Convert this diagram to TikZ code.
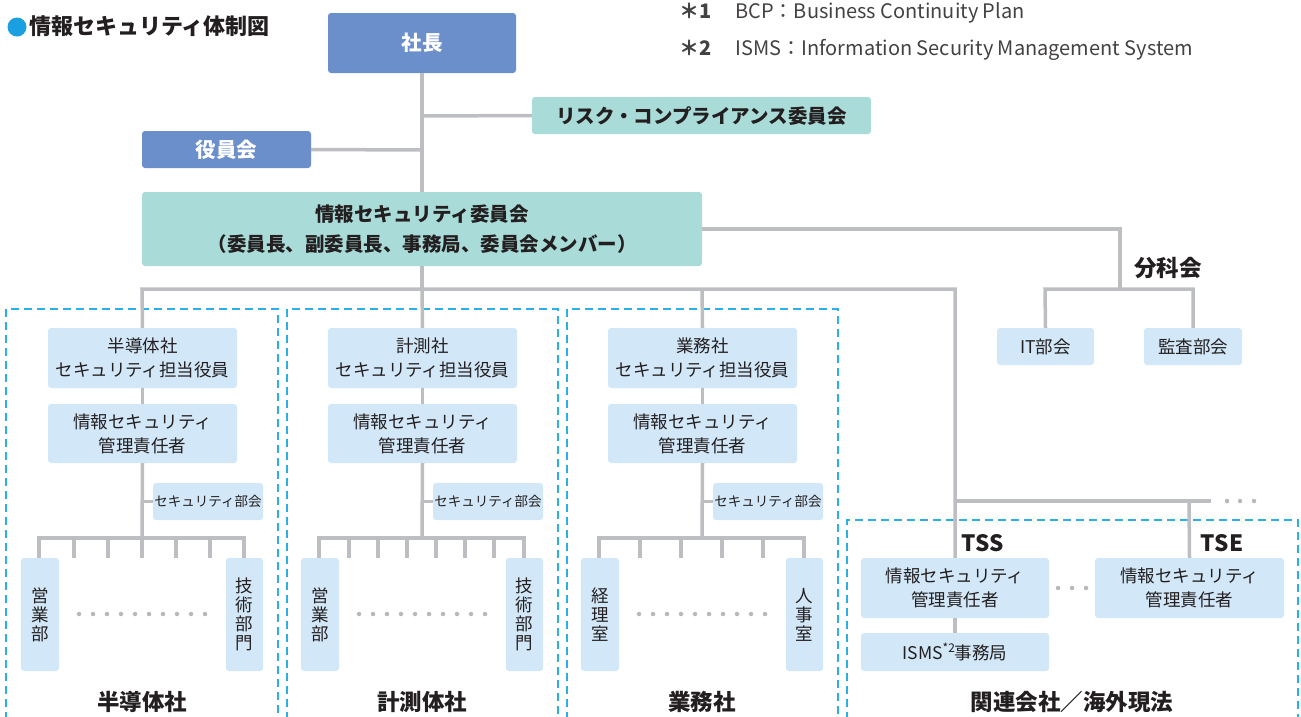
\documentclass[tikz,border=0pt]{standalone}
\usepackage{fontspec}
\setmainfont{Noto Sans CJK JP}
\definecolor{bluebox}{HTML}{6A8FCB}
\definecolor{tealbox}{HTML}{A9DCD8}
\definecolor{lightbox}{HTML}{D2E7F7}
\definecolor{linegray}{HTML}{BDBEC1}
\definecolor{dashc}{HTML}{2BB0E6}
\definecolor{txt}{HTML}{231F20}
\definecolor{dotc}{HTML}{B8B8BA}
\definecolor{titleblue}{HTML}{1AA0E0}
\tikzset{
  base/.style={rounded corners=3pt, inner sep=0pt, align=center, text=txt},
  bluenode/.style={base, fill=bluebox, text=white, font=\fontsize{20.5}{24}\selectfont\bfseries},
  tealnode/.style={base, fill=tealbox, font=\fontsize{19.5}{30}\selectfont\bfseries},
  lightnode/.style={base, fill=lightbox, font=\fontsize{17.5}{24}\selectfont},
  smallnode/.style={base, fill=lightbox, font=\fontsize{13.5}{16}\selectfont},
  deptnode/.style={base, fill=lightbox, font=\fontsize{17.5}{19}\selectfont, minimum width=38pt, minimum height=113pt},
  connector/.style={draw=linegray, line width=3.5pt},
  divframe/.style={draw=dashc, line width=1.4pt, dash pattern=on 8pt off 5pt},
  grouplabel/.style={font=\fontsize{22.5}{24}\selectfont\bfseries, text=txt, inner sep=0pt},
  noteline/.style={font=\fontsize{20}{22}\selectfont, text=txt!85, inner sep=0pt, anchor=west},
  gdot/.style={circle, fill=dotc, inner sep=0pt, minimum size=4.5pt},
}
\begin{document}
\begin{tikzpicture}[x=1pt,y=-1pt]
\useasboundingbox (0,0) rectangle (1301,716);
\clip (0,0) rectangle (1301,716);

% title
\fill[titleblue] (17,27) circle (9.5pt);
\node[font=\fontsize{22}{24}\selectfont\bfseries, text=txt, inner sep=0pt, anchor=west] (title) at (29,26) {情報セキュリティ体制図};

% footnotes
\node[noteline] (n1) at (679,13) {{\bfseries ＊1}\hspace{24pt}BCP：Business Continuity Plan};
\node[noteline] (n2) at (679,50) {{\bfseries ＊2}\hspace{24pt}ISMS：Information Security Management System};

% top nodes
\node[bluenode, minimum width=188pt, minimum height=60pt] (shacho) at (422,43) {社長};
\node[tealnode, minimum width=339pt, minimum height=37pt] (risk) at (701.5,115.5) {リスク・コンプライアンス委員会};
\node[bluenode, minimum width=169pt, minimum height=37pt] (yakuin) at (226.5,149.5) {役員会};
\node[tealnode, minimum width=560pt, minimum height=74pt] (iscom) at (422,229) {情報セキュリティ委員会\\（委員長、副委員長、事務局、委員会メンバー）};

\coordinate (jr) at (422,116);
\coordinate (jy) at (422,150);
\draw[connector] (shacho.south) -- (iscom.north);
\draw[connector] (jr) -- (risk.west);
\draw[connector] (yakuin.east) -- (jy);

% subcommittees
\node[grouplabel] (bunka) at (1168,268) {分科会};
\node[lightnode, minimum width=97pt, minimum height=37pt] (it) at (1045.5,346.5) {IT部会};
\node[lightnode, minimum width=98pt, minimum height=37pt] (kansa) at (1193,346.5) {監査部会};
\coordinate (bk) at (1120,289);
\draw[connector] (iscom.east |- 0,229) -- (1120,229) -- (bk);
\draw[connector] (it.north) -- (1045,289) -- (1193,289) -- (kansa.north);

% division frames
\draw[divframe] (6,720) -- (6,309) -- (278,309) -- (278,720);
\draw[divframe] (287,720) -- (287,309) -- (558,309) -- (558,720);
\draw[divframe] (567,720) -- (567,309) -- (838,309) -- (838,720);
\draw[divframe] (847,720) -- (847,520) -- (1298,520) -- (1298,720);

% division 1
\node[lightnode, minimum width=189pt, minimum height=60pt] (ea) at (142.5,358) {半導体社\\セキュリティ担当役員};
\node[lightnode, minimum width=189pt, minimum height=59pt] (ma) at (142.5,433.5) {情報セキュリティ\\管理責任者};
\node[smallnode, minimum width=110pt, minimum height=37pt] (sa) at (208,501.5) {セキュリティ部会};
\node[deptnode] (la) at (40,614.5) {営\\業\\部};
\node[deptnode, minimum width=37pt] (ra) at (244.5,614.5) {技\\術\\部\\門};
\node[grouplabel] (ga) at (142,702) {半導体社};

% division 2
\node[lightnode, minimum width=189pt, minimum height=60pt] (eb) at (422.5,358) {計測社\\セキュリティ担当役員};
\node[lightnode, minimum width=189pt, minimum height=59pt] (mb) at (422.5,433.5) {情報セキュリティ\\管理責任者};
\node[smallnode, minimum width=110pt, minimum height=37pt] (sb) at (488,501.5) {セキュリティ部会};
\node[deptnode] (lb) at (320,614.5) {営\\業\\部};
\node[deptnode, minimum width=37pt] (rb) at (524.5,614.5) {技\\術\\部\\門};
\node[grouplabel] (gb) at (422,702) {計測体社};

% division 3
\node[lightnode, minimum width=189pt, minimum height=60pt] (ec) at (702.5,358) {業務社\\セキュリティ担当役員};
\node[lightnode, minimum width=189pt, minimum height=59pt] (mc) at (702.5,433.5) {情報セキュリティ\\管理責任者};
\node[smallnode, minimum width=110pt, minimum height=37pt] (sc) at (768,501.5) {セキュリティ部会};
\node[deptnode] (lc) at (600,614.5) {経\\理\\室};
\node[deptnode, minimum width=37pt] (rc) at (804.5,614.5) {人\\事\\室};
\node[grouplabel] (gc) at (702,702) {業務社};

% related companies
\node[grouplabel] (tss) at (983,543) {TSS};
\node[grouplabel] (tse) at (1222,543) {TSE};
\node[lightnode, minimum width=188pt, minimum height=60pt] (mtss) at (955,588) {情報セキュリティ\\管理責任者};
\node[lightnode, minimum width=189pt, minimum height=60pt] (mtse) at (1189.5,588) {情報セキュリティ\\管理責任者};
\node[lightnode, minimum width=188pt, minimum height=38pt] (isms) at (955,652) {ISMS\raisebox{0.4em}{\fontsize{12}{12}\selectfont *2}事務局};
\node[grouplabel] (gd) at (1072,702) {関連会社／海外現法};

% main distribution
\coordinate (j0) at (422,289);
\coordinate (jt) at (955,501);
\coordinate (jend) at (1211,501);
\draw[connector] (iscom.south) -- (j0);
\draw[connector] (ea.north) -- (142,289) -- (955,289) -- (mtss.north);
\draw[connector] (j0) -- (eb.north);
\draw[connector] (702,289) -- (ec.north);
\draw[connector] (jt) -- (jend);
\draw[connector] (1189,501) -- (mtse.north);
\draw[connector] (mtss.south) -- (isms.north);
\foreach \x in {1227,1240,1254} \node[gdot] at (\x,501) {};
\foreach \x in {1058,1072,1086} \node[gdot] at (\x,588) {};

% division internal connectors
\draw[connector] (ea.south) -- (ma.north);
\draw[connector] (ma.south) -- (142,538);
\draw[connector] (142,501.5) -- (sa.west);
\draw[connector] (39,558) -- (39,538) -- (244,538) -- (244,558);
\foreach \x in {74,108,142,176,210} \draw[connector] (\x,538) -- (\x,558);

\draw[connector] (eb.south) -- (mb.north);
\draw[connector] (mb.south) -- (422,538);
\draw[connector] (422,501.5) -- (sb.west);
\draw[connector] (319,558) -- (319,538) -- (524,538) -- (524,558);
\foreach \x in {349,378,407,436,465,494} \draw[connector] (\x,538) -- (\x,558);

\draw[connector] (ec.south) -- (mc.north);
\draw[connector] (mc.south) -- (702,538);
\draw[connector] (702,501.5) -- (sc.west);
\draw[connector] (599,558) -- (599,538) -- (804,538) -- (804,558);
\foreach \x in {640,681,722,763} \draw[connector] (\x,538) -- (\x,558);

\foreach \c in {142,422,702} {
  \foreach \i in {0,...,9} \node[gdot] at (\c-63+\i*14,614) {};
}
\end{tikzpicture}
\end{document}
